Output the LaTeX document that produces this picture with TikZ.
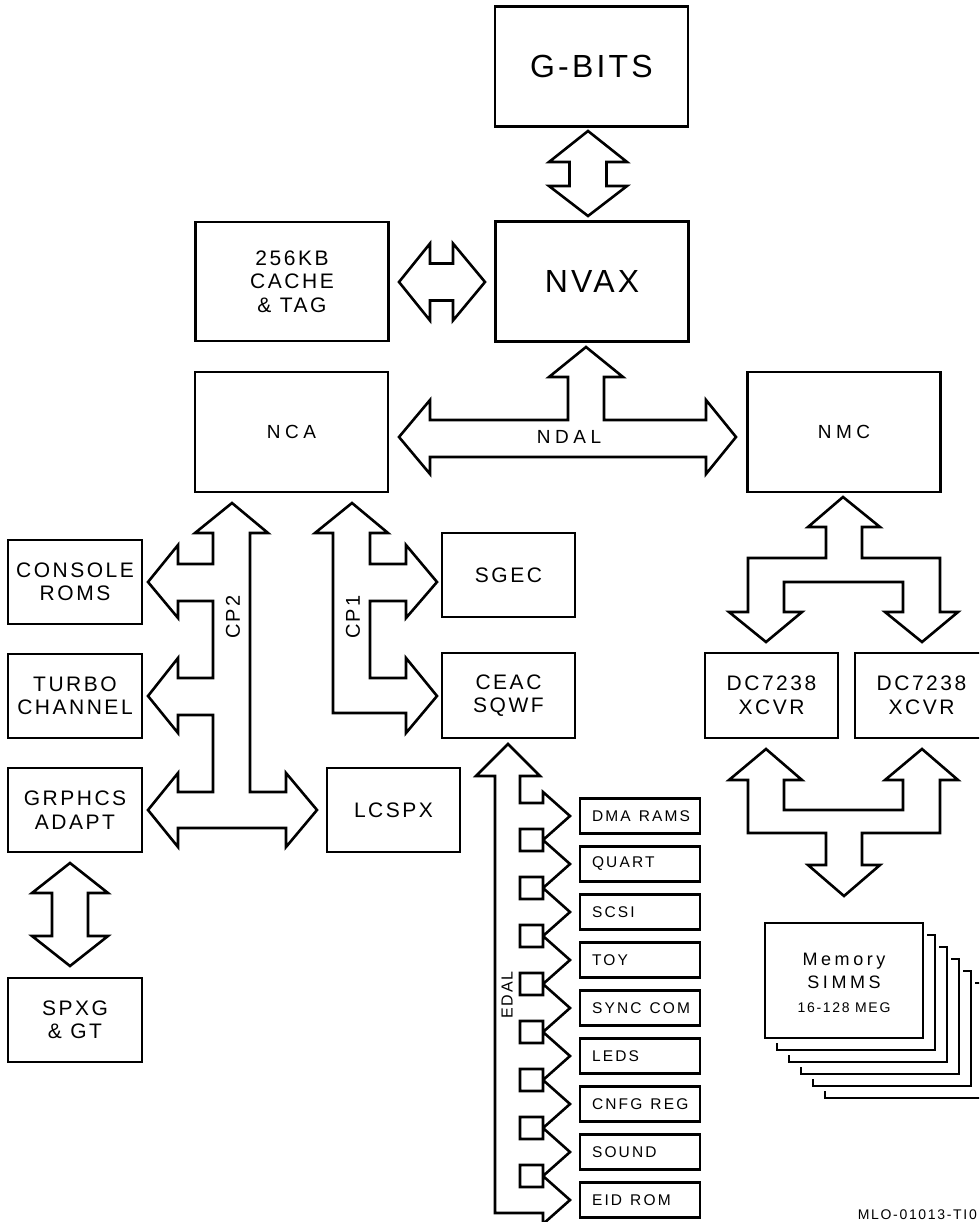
\documentclass[tikz,border=0pt]{standalone}
\usepackage{fontspec}
\setmainfont{Liberation Sans}
\newfontfamily\fbig[LetterSpace=10]{Liberation Sans}
\newfontfamily\fmed[LetterSpace=12]{Liberation Sans}
\newfontfamily\fsml[LetterSpace=24]{Liberation Sans}
\newfontfamily\fmem[LetterSpace=20]{Liberation Sans}
\newfontfamily\fio[LetterSpace=14]{Liberation Sans}
\newcommand\tbig{\fontsize{32}{38}\fbig}
\newcommand\tmed{\fontsize{21}{23.5}\fmed}
\newcommand\tsml{\fontsize{19}{22}\fsml}
\newcommand\tio{\fontsize{15.5}{18}\fio}
\newcommand\tmem{\fontsize{18}{23}\fmem}
\newcommand\tmeg{\fontsize{14}{17}\fmed}
\newcommand\tedal{\fontsize{16}{19}\fmed}
\newcommand\wsp{\hspace{8pt}}
\newcommand\iotext[1]{\makebox[96pt][l]{#1}}
\begin{document}
\begin{tikzpicture}[x=1pt,y=-1pt]
\tikzset{
  lw/.style={line width=2.6pt},
  blk/.style={draw, lw, inner sep=0pt, align=center, font=\tmed},
  bigblk/.style={blk, minimum width=193pt, minimum height=120pt},
  smlblk/.style={blk, minimum width=134pt, minimum height=84pt},
  ioblk/.style={draw, lw, inner xsep=12pt, inner ysep=0pt, minimum width=120pt, minimum height=35pt, font=\tio},
  bus/.style={draw, lw, line join=miter, miter limit=10, fill=white},
  lbl/.style={inner sep=0pt},
}
\useasboundingbox (0,0) rectangle (979,1222);
\clip (0,0) rectangle (979,1222);

% main blocks
\node[bigblk, font=\tbig] (gbits) at (591.5,66.5) {G-BITS};
\node[bigblk, font=\tbig] (nvax) at (592,281.5) {NVAX};
\node[bigblk, minimum height=119pt] (cache) at (292,281.5) {256KB\\CACHE\\\& TAG};
\node[bigblk, font=\tsml] (nca) at (291.5,432) {NCA};
\node[bigblk, font=\tsml] (nmc) at (844,432) {NMC};

\node[smlblk] (console) at (75,582) {CONSOLE\\ROMS};
\node[smlblk] (turbo) at (75,696) {TURBO\\CHANNEL};
\node[smlblk] (grphcs) at (75,810) {GRPHCS\\ADAPT};
\node[smlblk] (spxg) at (75,1020) {SPXG\\\& GT};
\node[smlblk, minimum width=133pt] (sgec) at (508.5,575) {SGEC};
\node[smlblk, minimum width=133pt, minimum height=85pt] (ceac) at (508.5,695.5) {CEAC\\SQWF};
\node[smlblk, minimum width=133pt] (lcspx) at (393.5,810) {LCSPX};
\node[smlblk, minimum width=133pt, minimum height=85pt, font=\fontsize{21}{24}\fmed] (xcvra) at (771.5,695.5) {DC7238\\XCVR};
\node[smlblk, minimum width=133pt, minimum height=85pt, font=\fontsize{21}{24}\fmed] (xcvrb) at (921.5,695.5) {DC7238\\XCVR};

% EDAL peripherals
\node[ioblk] (dma) at (640,816) {\iotext{DMA\wsp RAMS}};
\node[ioblk] (quart) at (640,864) {\iotext{QUART}};
\node[ioblk] (scsi) at (640,912) {\iotext{SCSI}};
\node[ioblk] (toy) at (640,960) {\iotext{TOY}};
\node[ioblk] (sync) at (640,1008) {\iotext{SYNC\wsp COM}};
\node[ioblk] (leds) at (640,1056) {\iotext{LEDS}};
\node[ioblk] (cnfg) at (640,1104) {\iotext{CNFG\wsp REG}};
\node[ioblk] (sound) at (640,1152) {\iotext{SOUND}};
\node[ioblk] (eid) at (640,1200) {\iotext{EID\wsp ROM}};

% memory stack
\foreach \i in {1,...,5}{
  \draw[lw, line join=miter] ({923+12*(\i-1)+4},{923+12*\i}) -- ({923+12*\i},{923+12*\i}) -- ({923+12*\i},{1038+12*\i}) -- ({765+12*\i},{1038+12*\i}) -- ({765+12*\i},{1038+12*(\i-1)+5});
}
\node[draw, lw, fill=white, minimum width=158pt, minimum height=115pt] (mem) at (844,980.5) {};
\node[lbl, anchor=base, font=\tmem] (memt1) at (844,965) {Memory};
\node[lbl, anchor=base, font=\tmem] (memt2) at (844,988) {SIMMS};
\node[lbl, anchor=base, font=\tmeg] (memt3) at (844,1012) {16-128 MEG};

% G-BITS <-> NVAX
\draw[bus] (588,131) -- (627,162) -- (606.5,162) -- (606.5,186) -- (627,186) -- (588,216) -- (549,186) -- (569.5,186) -- (569.5,162) -- (549,162) -- cycle;
% CACHE <-> NVAX
\draw[bus] (399,282) -- (430,243.5) -- (430,263.5) -- (453,263.5) -- (453,243.5) -- (485,282) -- (453,320.5) -- (453,300.5) -- (430,300.5) -- (430,320.5) -- cycle;
% NDAL
\draw[bus] (399,437) -- (430,400) -- (430,420) -- (568,420) -- (568,377) -- (549,377) -- (586,347) -- (623,377) -- (604,377) -- (604,420) -- (706,420) -- (706,400) -- (736,437) -- (706,474) -- (706,457) -- (430,457) -- (430,474) -- cycle;
\node[lbl, font=\tsml] (ndal) at (569,437) {NDAL};
% CP2
\draw[bus] (232,503) -- (268,533) -- (250,533) -- (250,792) -- (286,792) -- (286,773) -- (317,810) -- (286,847) -- (286,828) -- (178,828) -- (178,847) -- (148,810) -- (178,773) -- (178,792) -- (213,792) -- (213,715) -- (178,715) -- (178,733) -- (148,696) -- (178,658) -- (178,678) -- (213,678) -- (213,601) -- (178,601) -- (178,618) -- (148,582) -- (178,545) -- (178,564) -- (213,564) -- (213,533) -- (195,533) -- cycle;
\node[lbl, rotate=90, font=\fontsize{20}{24}\fmed] (cp2) at (233,617) {CP2};
% CP1
\draw[bus] (352,503) -- (388,533) -- (370,533) -- (370,564) -- (406,564) -- (406,545) -- (437,582) -- (406,618) -- (406,601) -- (370,601) -- (370,678) -- (406,678) -- (406,658) -- (437,696) -- (406,733) -- (406,713) -- (333,713) -- (333,533) -- (315,533) -- cycle;
\node[lbl, rotate=90, font=\fontsize{20}{24}\fmed] (cp1) at (353,617) {CP1};
% GRPHCS <-> SPXG
\draw[bus] (70,863) -- (108,893) -- (88,893) -- (88,936) -- (108,936) -- (70,966) -- (32,936) -- (52,936) -- (52,893) -- (32,893) -- cycle;
% NMC bus
\draw[bus] (843,497) -- (880,527) -- (862,527) -- (862,558) -- (940,558) -- (940,612) -- (958,612) -- (922,642) -- (885,612) -- (903,612) -- (903,582) -- (784,582) -- (784,612) -- (802,612) -- (766,642) -- (729,612) -- (748,612) -- (748,558) -- (826,558) -- (826,527) -- (808,527) -- cycle;
% XCVR -> memory bus
\draw[bus] (766,749) -- (802,780) -- (784,780) -- (784,810) -- (903,810) -- (903,780) -- (885,780) -- (922,749) -- (958,780) -- (940,780) -- (940,833) -- (862,833) -- (862,865) -- (880,865) -- (844,896) -- (808,865) -- (826,865) -- (826,833) -- (748,833) -- (748,780) -- (729,780) -- cycle;
% EDAL
\draw[bus] (508,744) -- (540,776) -- (520,776)
  \foreach \n in {0,...,8}{ -- (520,{803+48*\n}) -- (543,{803+48*\n}) -- (543,{792+48*\n}) -- (570,{816+48*\n}) -- (543,{840+48*\n}) -- (543,{829+48*\n}) -- (520,{829+48*\n}) }
  -- (495,1213) -- (495,776) -- (476,776) -- cycle;
\node[lbl, rotate=90, font=\tedal] (edal) at (507,995) {EDAL};

% figure number
\node[lbl, anchor=base east, font=\fontsize{14}{17}\fmed] (fignum) at (977,1219) {MLO-01013-TI0};
\end{tikzpicture}
\end{document}
